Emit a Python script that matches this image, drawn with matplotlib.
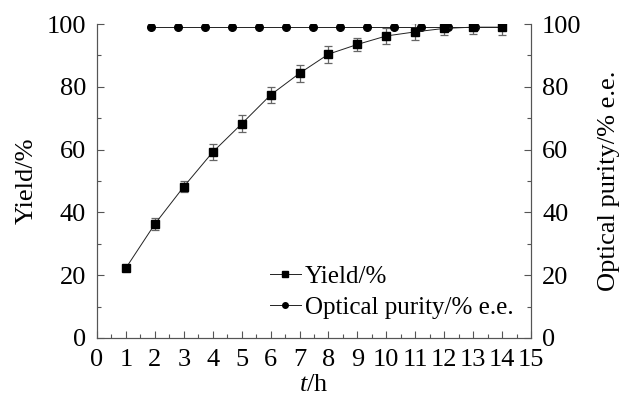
import matplotlib.pyplot as plt
from matplotlib.ticker import MultipleLocator
from matplotlib.lines import Line2D

plt.rcParams['font.family'] = 'serif'
plt.rcParams['font.serif'] = ['Liberation Serif', 'Times New Roman', 'DejaVu Serif']
plt.rcParams['mathtext.fontset'] = 'custom'
plt.rcParams['mathtext.it'] = 'Liberation Serif:italic'
plt.rcParams['mathtext.rm'] = 'Liberation Serif'

t_yield = [1, 2, 3, 4, 5, 6, 7, 8, 9, 10, 11, 12, 13, 14]
yield_pct = [22.3, 36.3, 48.2, 59.2, 68.2, 77.4, 84.3, 90.4, 93.5, 96.2, 97.5, 98.6, 99.0, 99.0]
yield_err = [0.3, 2.0, 1.8, 2.5, 2.7, 2.7, 2.7, 2.7, 2.0, 2.5, 2.7, 2.2, 2.3, 2.4]

t_purity = [1.87, 2.8, 3.73, 4.67, 5.6, 6.53, 7.47, 8.4, 9.33, 10.27, 11.2, 12.13, 13.07, 14.0]
purity = [99.1] * 14

fig = plt.figure(figsize=(6.19, 4.03), dpi=100)
ax = fig.add_axes([0.1567, 0.1613, 0.7011, 0.7791])
ax2 = ax.twinx()

ax.errorbar(t_yield, yield_pct, yerr=yield_err, color='#222222', lw=0.7,
            marker='s', ms=6, mfc='black', mec='black', ecolor='#666666',
            elinewidth=0.9, capsize=3, capthick=0.9, zorder=3)
ax.plot(t_purity, purity, color='#222222', lw=0.7, marker='o', ms=5.5,
        mfc='black', mec='black', zorder=3)

ax.set_xlim(0, 15)
ax.set_ylim(0, 100)
ax2.set_ylim(0, 100)
ax.xaxis.set_major_locator(MultipleLocator(1))
ax.xaxis.set_minor_locator(MultipleLocator(0.5))
for a in (ax, ax2):
    a.yaxis.set_major_locator(MultipleLocator(20))
    a.yaxis.set_minor_locator(MultipleLocator(10))
    a.tick_params(which='both', direction='in', labelsize=19, color='#555555', width=0.8)
    a.tick_params(which='major', length=5)
    a.tick_params(which='minor', length=3)
    a.spines['top'].set_visible(False)
    for s in a.spines.values():
        s.set_color('#555555')
        s.set_linewidth(0.8)
ax.tick_params(axis='x', pad=8)
ax.tick_params(axis='y', pad=8)
ax2.tick_params(axis='y', pad=8)

ax.set_xlabel('$t$/h', fontsize=19, labelpad=2)
ax.set_ylabel('Yield/%', fontsize=19, labelpad=6)
ax2.set_ylabel('Optical purity/% e.e.', fontsize=19, labelpad=12)

handles = [
    Line2D([], [], color='#222222', lw=0.7, marker='s', ms=4.5, mfc='black', mec='black'),
    Line2D([], [], color='#222222', lw=0.7, marker='o', ms=4, mfc='black', mec='black'),
]
ax.legend(handles, ['Yield/%', 'Optical purity/% e.e.'], loc='lower right',
          bbox_to_anchor=(1.0, 0.005), frameon=False, fontsize=18,
          handlelength=1.25, handletextpad=0.15, labelspacing=0.35, borderaxespad=0.3)

fig.savefig('out.png', dpi=100)
